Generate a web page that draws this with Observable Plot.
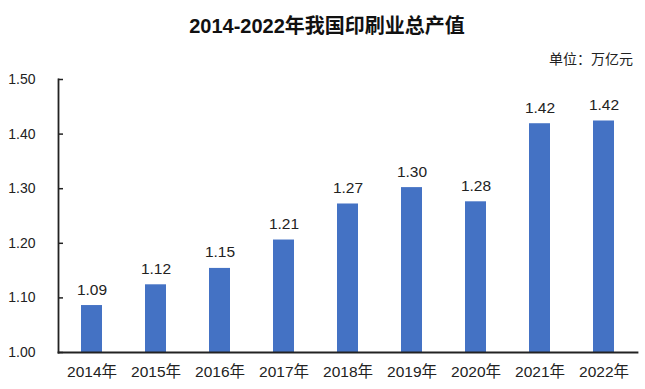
<!DOCTYPE html>
<html>
<head>
<meta charset="utf-8">
<script src="https://cdn.jsdelivr.net/npm/d3@7"></script>
<script src="https://cdn.jsdelivr.net/npm/@observablehq/plot@0.6"></script>
<style>
  html, body { margin: 0; padding: 0; background: #fff; }
  #wrap { position: relative; width: 645px; height: 389px; overflow: hidden; }
  #title { position: absolute; left: 0; top: 14px; width: 654px; text-align: center;
    font-family: "Liberation Sans", "Noto Sans CJK SC", sans-serif; font-weight: bold; font-size: 20px; color: #111; line-height: 24px; }
  #unit { position: absolute; right: 12px; top: 49px; font-family: "Noto Sans CJK SC", sans-serif;
    font-size: 14px; color: #222; line-height: 18px; }
  #chart { position: absolute; left: 0; top: 70px; }
</style>
</head>
<body>
<div id="wrap">
  <div id="title">2014-2022年我国印刷业总产值</div>
  <div id="unit">单位：万亿元</div>
  <div id="chart"></div>
</div>
<script>
const years = ["2014年","2015年","2016年","2017年","2018年","2019年","2020年","2021年","2022年"];
const values = [1.086, 1.124, 1.154, 1.206, 1.272, 1.302, 1.276, 1.419, 1.424];
const yTicks = [1.0, 1.1, 1.2, 1.3, 1.4, 1.5];

const data = years.map((y, i) => ({year: y, value: values[i]}));
const font = `"Liberation Sans", "Noto Sans CJK SC", sans-serif`;

const chart = Plot.plot({
  width: 645,
  height: 319,
  marginTop: 9,
  marginBottom: 37,
  marginLeft: 58,
  marginRight: 8,
  style: {fontFamily: font, fontSize: "14px", color: "#222", background: "transparent"},
  x: {domain: years, paddingInner: 0.67, paddingOuter: 0.335, align: 0.5, label: null},
  y: {domain: [1.0, 1.5], label: null},
  marks: [
    Plot.barY(data, {x: "year", y1: 1.0, y2: "value", fill: "#4472C4"}),
    Plot.text(data, {x: "year", y: "value", text: d => d3.format(".2f")(d.value), dy: -16, fontSize: 15.5, fill: "#222", fontFamily: font}),
    Plot.axisY({ticks: yTicks, tickFormat: d3.format(".2f"), tickSize: -5, tickPadding: 28, stroke: "#222", strokeWidth: 1.5, fontSize: 14, label: null}),
    Plot.axisX({tickSize: 0, tickPadding: 13, fontSize: 15.5, label: null}),
    Plot.frame({anchor: "left", stroke: "#222", strokeWidth: 1.8}),
    Plot.frame({anchor: "bottom", stroke: "#222", strokeWidth: 1.8})
  ]
});
document.getElementById("chart").appendChild(chart);
</script>
</body>
</html>
